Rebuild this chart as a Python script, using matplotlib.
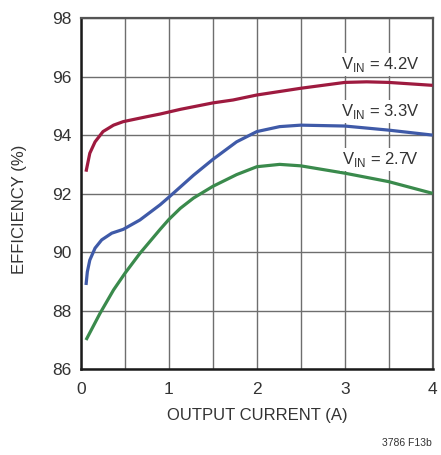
import matplotlib
matplotlib.use("Agg")
import matplotlib.pyplot as plt

plt.rcParams["font.family"] = ["Liberation Sans", "DejaVu Sans"]

# Efficiency vs output current for three input voltages
x_42 = [0.057, 0.1, 0.16, 0.25, 0.37, 0.48, 0.75, 0.9, 1.13, 1.5, 1.73, 2.0, 2.5, 3.0, 3.25, 3.5, 4.0]
y_42 = [92.75, 93.38, 93.77, 94.12, 94.34, 94.46, 94.63, 94.72, 94.88, 95.1, 95.2, 95.37, 95.6, 95.8, 95.82, 95.8, 95.7]

x_33 = [0.057, 0.072, 0.1, 0.16, 0.235, 0.35, 0.48, 0.67, 0.9, 1.0, 1.28, 1.5, 1.77, 2.0, 2.26, 2.5, 3.0, 3.5, 4.0]
y_33 = [88.88, 89.33, 89.73, 90.14, 90.42, 90.65, 90.78, 91.1, 91.62, 91.88, 92.63, 93.17, 93.77, 94.12, 94.29, 94.34, 94.31, 94.17, 94.0]

x_27 = [0.057, 0.216, 0.37, 0.5, 0.67, 0.9, 1.0, 1.13, 1.28, 1.5, 1.77, 2.0, 2.26, 2.5, 3.0, 3.5, 4.0]
y_27 = [87.0, 87.91, 88.71, 89.28, 89.96, 90.78, 91.12, 91.5, 91.85, 92.25, 92.65, 92.92, 93.0, 92.95, 92.7, 92.41, 92.01]

x_ticks = [0, 1, 2, 3, 4]
y_ticks = [86, 88, 90, 92, 94, 96, 98]

series = [
    (x_42, y_42, "#9e1a3f", "4.2V", 96.4),
    (x_33, y_33, "#3f5aa8", "3.3V", 94.8),
    (x_27, y_27, "#3a8a4c", "2.7V", 93.15),
]

fig = plt.figure(figsize=(4.41, 4.55), dpi=100)
ax = fig.add_axes([0.1837, 0.1884, 0.9810 - 0.1837, 0.9604 - 0.1884])

ax.set_xlim(0, 4)
ax.set_ylim(86, 98)
ax.set_xticks(x_ticks)
ax.set_yticks(y_ticks)
ax.set_xticks([0.5, 1.5, 2.5, 3.5], minor=True)
ax.grid(True, which="both", color="#6e6e6e", linewidth=1.0)
ax.set_axisbelow(True)
ax.tick_params(which="both", length=0, labelsize=12.5, colors="#333333")
ax.tick_params(axis="x", pad=9)
ax.tick_params(axis="y", pad=7)

for side in ["left", "bottom"]:
    ax.spines[side].set_color("#1a1a1a")
    ax.spines[side].set_linewidth(1.8)
for side in ["top", "right"]:
    ax.spines[side].set_color("#555555")
    ax.spines[side].set_linewidth(1.6)

for xs, ys, color, label, ly in series:
    ax.plot(xs, ys, color=color, linewidth=2.3, solid_capstyle="butt", zorder=3)
    ax.text(3.4, ly, r"V$_{\mathregular{IN}}$ = " + label, fontsize=12, color="#333333",
            ha="center", va="center", zorder=4,
            bbox=dict(facecolor="white", edgecolor="none", pad=1.5))

ax.set_xlabel("OUTPUT CURRENT (A)", fontsize=12, color="#333333", labelpad=8)
fig.text(20 / 441, 1 - 209 / 455, "EFFICIENCY (%)", fontsize=12, color="#333333",
         rotation=90, ha="center", va="center")

fig.text(0.978, 1 - 443 / 455, "3786 F13b", fontsize=7.5, color="#333333", ha="right", va="center")

fig.savefig("out.png", dpi=100)
